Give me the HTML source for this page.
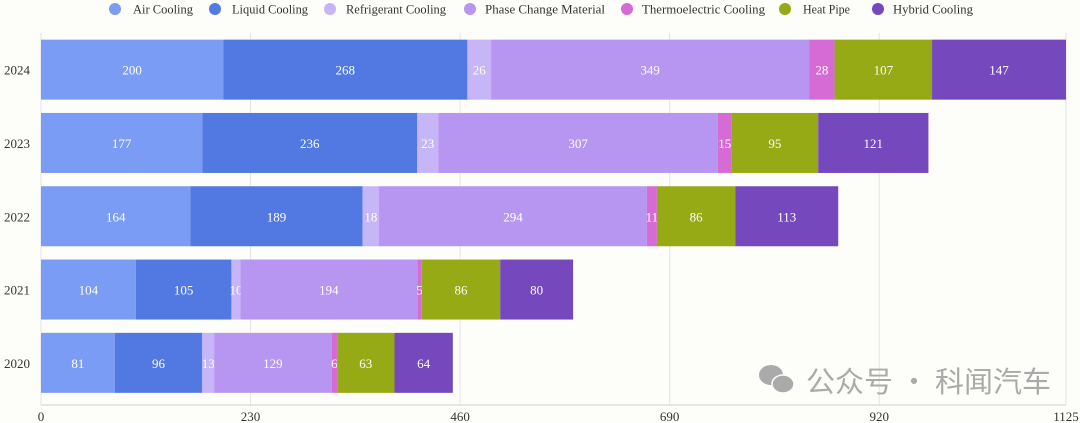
<!DOCTYPE html>
<html><head><meta charset="utf-8"><style>
body{margin:0;background:#fdfdf9;}
svg{display:block;font-family:"Liberation Serif","Noto Serif CJK SC",serif;}
</style></head><body>
<svg id="c" width="1080" height="423"></svg>
<script>
const years=["2024","2023","2022","2021","2020"];
const seriesNames=["Air Cooling","Liquid Cooling","Refrigerant Cooling","Phase Change Material","Thermoelectric Cooling","Heat Pipe","Hybrid Cooling"];
const airCooling=[200,177,164,104,81];
const liquidCooling=[268,236,189,105,96];
const refrigerantCooling=[26,23,18,10,13];
const phaseChange=[349,307,294,194,129];
const thermoelectric=[28,15,11,5,6];
const heatPipe=[107,95,86,86,63];
const hybridCooling=[147,121,113,80,64];
const ticks=[0,230,460,690,920,1125];
const colors=["#7b9cf5","#5279e1","#c6b6f8","#b796f2","#d76bd6","#95aa15","#7548bd"];
const series=[airCooling,liquidCooling,refrigerantCooling,phaseChange,thermoelectric,heatPipe,hybridCooling];
const svg=document.getElementById('c');const NS="http://www.w3.org/2000/svg";
function el(t,a,p){const e=document.createElementNS(NS,t);for(const k in a)e.setAttribute(k,a[k]);(p||svg).appendChild(e);return e;}
const x0=41,x1=1066,xmax=1125;
const xs=v=>x0+v/xmax*(x1-x0);
const topY=33,band=73.3,bh=60;
const ys=i=>topY+i*band+(band-bh)/2;
ticks.forEach(t=>{
 const g=el('line',{x1:xs(t),x2:xs(t),y1:33,y2:405,stroke:'#e4e4e8','stroke-width':1});
 
 
 const tx=el('text',{x:xs(t),y:421,'text-anchor':'middle','font-size':13,fill:'#333'});tx.textContent=t;
 
 
});
const ax=el('line',{x1:x0,x2:x1,y1:405,y2:405,stroke:'#cfd0da'});


years.forEach((y,i)=>{
 const t=el('text',{x:30,y:ys(i)+bh/2+5,'text-anchor':'end','font-size':13,fill:'#333'});t.textContent=y;
 
 
 let acc=0;
 series.forEach((s,j)=>{
  const v=s[i];
  const r=el('rect',{x:xs(acc),y:ys(i),width:xs(acc+v)-xs(acc),height:bh,fill:colors[j]});
  
  
  const l=el('text',{x:(xs(acc)+xs(acc+v))/2,y:ys(i)+bh/2+5,'text-anchor':'middle','font-size':13,fill:'#fff'});l.textContent=v;
  
  
  acc+=v;
 });
});
const lx=[115,215,330,470,627,785,878];
const tx0=[133,232,346,485,642,803,893];
const tw=[60,76,100,120,123,47,80];
seriesNames.forEach((n,j)=>{
 const g=el('g',{});
 
 
 el('circle',{cx:lx[j],cy:9,r:6,fill:colors[j]},g);
 const t=el('text',{x:tx0[j],y:13.5,'font-size':13,fill:'#333',textLength:tw[j],lengthAdjust:'spacingAndGlyphs'},g);t.textContent=n;
});
const wm=el('g',{});


el('ellipse',{cx:771,cy:375,rx:12,ry:10,fill:'#aaa'},wm);
el('ellipse',{cx:783,cy:384,rx:11,ry:9,fill:'#aaa',stroke:'#fdfdf9','stroke-width':1.5},wm);
const wt=el('text',{x:806,y:392,'font-size':29,fill:'#aaa','font-family':'"Noto Sans CJK SC",sans-serif'},wm);wt.textContent="公众号 · 科闻汽车";
</script>
</body></html>
